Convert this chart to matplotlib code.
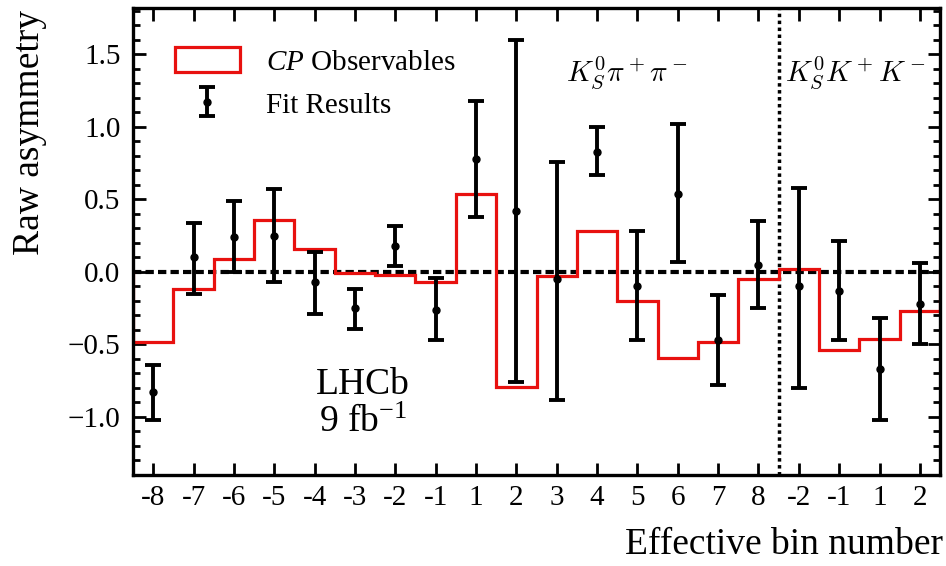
import numpy as np
import matplotlib
matplotlib.use("Agg")
import matplotlib.pyplot as plt
from matplotlib.patches import Patch
from matplotlib.ticker import MultipleLocator

plt.rcParams['font.family'] = ['Liberation Serif', 'DejaVu Serif']
plt.rcParams['mathtext.fontset'] = 'custom'
plt.rcParams['mathtext.rm'] = 'Liberation Serif'
plt.rcParams['mathtext.it'] = 'Liberation Serif:italic'

# effective bins: K0S pi pi (-8..8 w/o 0) then K0S K K (-2..2 w/o 0)
bin_labels = ['-8', '-7', '-6', '-5', '-4', '-3', '-2', '-1',
              '1', '2', '3', '4', '5', '6', '7', '8',
              '-2', '-1', '1', '2']

cp_obs = [-0.48, -0.12, 0.09, 0.36, 0.16, -0.01, -0.02, -0.07,
          0.54, -0.79, -0.03, 0.28, -0.20, -0.59, -0.48, -0.05,
          0.02, -0.54, -0.46, -0.27]

fit_val = [-0.83, 0.10, 0.24, 0.25, -0.07, -0.25, 0.18, -0.26,
           0.78, 0.42, -0.05, 0.83, -0.10, 0.54, -0.47, 0.05,
           -0.10, -0.13, -0.67, -0.22]
fit_hi = [-0.64, 0.34, 0.49, 0.57, 0.14, -0.12, 0.32, -0.04,
          1.18, 1.60, 0.76, 1.00, 0.28, 1.02, -0.16, 0.35,
          0.58, 0.21, -0.32, 0.06]
fit_lo = [-1.02, -0.15, 0.00, -0.07, -0.29, -0.39, 0.04, -0.47,
          0.38, -0.76, -0.88, 0.67, -0.47, 0.07, -0.78, -0.25,
          -0.80, -0.47, -1.02, -0.50]

n = len(bin_labels)
x = np.arange(n)
edges = np.arange(n + 1) - 0.5
val = np.array(fit_val)
yerr = [val - np.array(fit_lo), np.array(fit_hi) - val]

fig = plt.figure(figsize=(9.46, 5.66), dpi=100)
ax = fig.add_axes([0.1406, 0.1608, 0.8531, 0.8251])

ax.axhline(0, color='black', lw=3, ls=(0, (2, 1)), zorder=1)
ax.axvline(15.5, color='black', lw=2.5, ls=(0, (1, 1)), zorder=1)

ax.stairs(cp_obs, edges, color='#e8110f', lw=2.3, zorder=2)
eb = ax.errorbar(x, val, yerr=yerr, fmt='o', color='black', ms=5,
                 elinewidth=2.8, capsize=6, capthick=2.8, zorder=3)

ax.set_xlim(-0.5, n - 0.5)
ax.set_ylim(-1.4, 1.82)
ax.set_xticks(x)
ax.set_xticklabels(bin_labels)
ax.yaxis.set_major_locator(MultipleLocator(0.5))
ax.yaxis.set_minor_locator(MultipleLocator(0.1))
ax.tick_params(which='both', direction='in', top=True, right=True,
               labelsize=21, width=2)
ax.tick_params(which='major', length=9)
ax.tick_params(which='minor', length=5)
ax.tick_params(axis='x', pad=7)
ax.tick_params(axis='y', pad=9)
for s in ax.spines.values():
    s.set_linewidth(2.4)

ax.set_ylabel('Raw asymmetry', fontsize=27)
ax.yaxis.set_label_coords(-0.107, 0.995)
ax.yaxis.label.set_ha('right')
ax.set_xlabel('Effective bin number', fontsize=27)
ax.xaxis.set_label_coords(1.004, -0.112)
ax.xaxis.label.set_ha('right')

ax.text(5.2, -0.78, 'LHCb', fontsize=27, ha='center', va='center')
ax.text(5.2, -1.04, r'9 fb$^{-1}$', fontsize=27, ha='center', va='center')
ax.text(11.73, 1.37, r'$K^0_S\pi^+\pi^-$', fontsize=21, ha='center',
        va='center', math_fontfamily='cm')
ax.text(17.4, 1.37, r'$K^0_SK^+K^-$', fontsize=21, ha='center',
        va='center', math_fontfamily='cm')

red_patch = Patch(facecolor='none', edgecolor='#e8110f', lw=2.3)
ax.legend([red_patch, eb], [r'$CP$ Observables', 'Fit Results'],
          loc='upper left', bbox_to_anchor=(0.02, 0.972), frameon=False,
          fontsize=21, handlelength=2.2, handleheight=0.95, labelspacing=0.5,
          handletextpad=0.9)

fig.savefig('out.png', dpi=100)
